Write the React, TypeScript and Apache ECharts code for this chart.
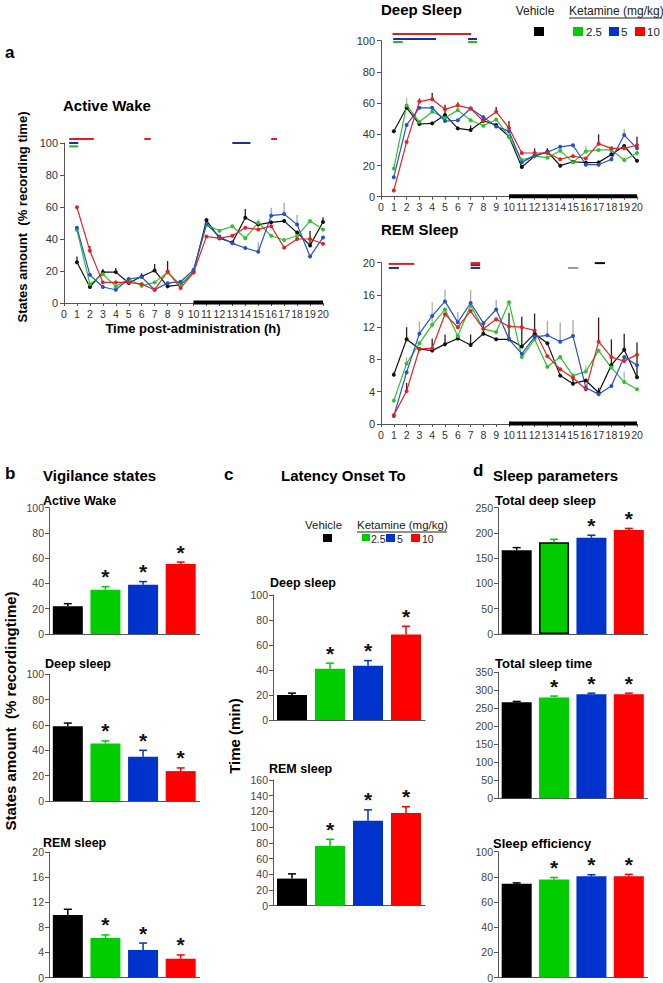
import React, { useEffect, useRef } from "react";
import * as echarts from "echarts";

// ---------- DATA ----------
const HOURS = [1, 2, 3, 4, 5, 6, 7, 8, 9, 10, 11, 12, 13, 14, 15, 16, 17, 18, 19, 20];
const GROUPS = ["Vehicle", "2.5", "5", "10"];
const DARK_PHASE = [10, 20];

// Active Wake (% recording time)
const awVehicle = [25.5, 10, 19.3, 19.3, 12.5, 16.6, 20.3, 10.4, 11.4, 19.5, 51.7, 40.5, 37.8, 53.3, 49, 50.4, 51.2, 44, 36, 50.6];
const awK25 = [45.6, 11.8, 18, 10.4, 15, 10.8, 12.9, 19, 11.4, 19.7, 48.8, 45.2, 48, 40.5, 50.2, 42, 39.4, 42, 51.2, 46];
const awK5 = [47, 17.6, 10, 8.3, 15, 16.2, 8.3, 12.4, 13.3, 20.7, 49.4, 41.5, 37.3, 34.4, 32, 54.6, 55.6, 49, 29, 41];
const awK10 = [59.8, 32.6, 12.9, 12.9, 12.9, 11.8, 8.3, 19.7, 9.3, 19, 41.5, 40.5, 42, 47, 46, 48, 34.6, 40, 40, 37];
const awVehicleErr = [3.5, 1, 2, 2.5, 1, 2, 4, 0, 1, 0, 1.5, 0.5, 0.5, 5.5, 1, 0, 1, 1, 9, 3];
const awK25Err = [0, 0, 0, 0, 0, 0, 0, 0, 0, 0, 0, 0, 0, 0, 2, 0, 0, 0, 0, 0];
const awK5Err = [0, 0, 0, 0, 0, 0, 0, 0, 0, 0, 0, 0, 0, 0, 6, 5, 7, 6, 0, 0];
const awK10Err = [0, 3, 0, 0, 0, 0, 0, 6.5, 0, 0, 0, 0, 0, 0, 0, 0, 0, 0, 0, 0];
// significance bars: [fromHour, toHour, level, group]
const awSig = [
  [0.4, 2.3, 102.5, 3],
  [0.4, 1.1, 100, 2],
  [0.4, 1.1, 97.9, 1],
  [6.2, 6.7, 102.5, 3],
  [13.0, 14.4, 100, 2],
  [16.0, 16.45, 102.5, 3],
];

// Deep Sleep
const dsVehicle = [42, 57, 46.6, 47, 52.4, 43.8, 42.7, 48.7, 46, 38.5, 19, 26, 28.8, 19.9, 22.4, 21.8, 22, 27, 32.5, 23];
const dsK25 = [18, 58.5, 48, 54.5, 50.5, 55.5, 49, 45.5, 49.5, 38.5, 23.5, 26, 25, 29.5, 22, 29, 30, 30, 23.5, 28];
const dsK5 = [12.5, 46, 57, 57, 48.5, 49, 56.5, 51, 45, 42, 22, 26.5, 28.5, 32, 33, 20.5, 20.5, 24, 39.5, 31];
const dsK10 = [4, 35, 61, 62.5, 56, 58.5, 56.5, 48.5, 54.5, 44, 28, 28, 28, 24, 26, 24.5, 34, 31, 31, 33];
const dsVehicleErr = [0, 0, 0, 0, 3, 0, 3, 0, 0, 0, 0, 0, 2, 0, 0, 0, 0, 3, 0, 0];
const dsK25Err = [0, 5, 0, 0, 0, 0, 0, 0, 0, 0, 0, 0, 0, 0, 0, 3.5, 0, 0, 0, 0];
const dsK5Err = [0, 0, 0, 0, 0, 0, 0, 0, 0, 0, 0, 0, 0, 0, 0, 0, 0, 0, 4, 0];
const dsK10Err = [0, 0, 2, 4, 3, 2, 0, 0, 3, 4.5, 0, 3, 3, 0, 0, 0, 6, 0, 0, 5.5];
const dsSig = [
  [0.9, 7.05, 104.3, 3],
  [0.95, 4.3, 101.1, 2],
  [0.95, 1.7, 99.2, 1],
  [6.8, 7.5, 101.1, 2],
  [6.8, 7.5, 99.2, 1],
];

// REM Sleep
const remVehicle = [6.1, 10.5, 9.3, 9.1, 9.9, 10.6, 9.8, 11.2, 10.5, 10.5, 9.6, 11.2, 10, 6, 5, 5.4, 3.9, 7.3, 9.2, 5.8];
const remK25 = [2.9, 7.5, 10, 12.3, 14.2, 10.9, 14.7, 11.8, 11.4, 15.1, 8.3, 10.5, 7.1, 8.3, 6, 6.5, 9.1, 7, 5.2, 4.3];
const remK5 = [1, 6.4, 11.2, 13.4, 15.2, 12.6, 15, 12.5, 14.2, 10.5, 8.7, 10.8, 11, 10.2, 10.9, 4.5, 3.7, 4.7, 8.3, 7.3];
const remK10 = [1.1, 4.1, 9.3, 9.4, 13.6, 12, 14, 11.8, 13, 12.1, 12, 11.6, 8.4, 6.8, 5.7, 4.3, 10.2, 8.3, 7.8, 8.6];
const remVehicleErr = [0.3, 1.5, 0, 1.5, 1.2, 0, 1.3, 1.4, 0, 3.3, 3.7, 2.5, 0, 0, 0.9, 0, 0.6, 3.2, 2, 4.3];
const remK25Err = [0, 0.8, 0, 2.8, 0, 0, 0, 0, 0, 0, 0, 0, 0, 0, 0, 0.8, 0, 0, 1.3, 0];
const remK5Err = [0, 0, 1.5, 0, 1.4, 1.3, 1.6, 0, 1.2, 0, 0, 0, 1.8, 2.4, 2, 0, 0, 0, 0, 0];
const remK10Err = [0, 1, 0, 0, 0, 0, 0, 0, 0, 0, 0, 0, 0, 0, 0, 0, 3, 0, 0, 0];
const remSig = [
  [0.6, 2.6, 19.85, 3],
  [0.6, 1.4, 19.35, 2],
  [7.0, 7.75, 19.95, 3],
  [7.0, 7.75, 19.7, 4],
  [7.0, 7.75, 19.35, 2],
  [14.6, 15.4, 19.35, 5],
  [16.7, 17.5, 19.95, 0],
];

// b: Vigilance states
const bAW = [22, 35, 39, 55.5];
const bAWErr = [2, 2.5, 2.5, 1.5];
const bAWSig = [0, 1, 1, 1];
const bDS = [59, 45.4, 35, 23.6];
const bDSErr = [2.5, 2, 5, 2.5];
const bDSSig = [0, 1, 1, 1];
const bREM = [10, 6.3, 4.4, 3];
const bREMErr = [0.9, 0.5, 1.1, 0.6];
const bREMSig = [0, 1, 1, 1];
// c: Latency onset to
const cDS = [20, 41, 43.5, 68.5];
const cDSErr = [1.5, 4.5, 4, 6.5];
const cDSSig = [0, 1, 1, 1];
const cREM = [34.5, 76, 108, 118];
const cREMErr = [6, 8.5, 14, 8];
const cREMSig = [0, 1, 1, 1];
// d: Sleep parameters
const dTDS = [166, 181.5, 190.5, 206];
const dTDSErr = [5, 6, 5, 3];
const dTDSSig = [0, 0, 1, 1];
const dTST = [267, 280, 289, 289];
const dTSTErr = [2, 4, 3, 3];
const dTSTSig = [0, 1, 1, 1];
const dSE = [74.5, 78, 80.5, 80.5];
const dSEErr = [0.7, 1.5, 1.2, 1.5];
const dSESig = [0, 1, 1, 1];

// ---------- STYLE ----------
const FONT = "'Liberation Sans', Arial, Helvetica, sans-serif";
const LINE_COLORS = ["#111111", "#2fc12f", "#2352cc", "#e52222"];
const ERR_COLORS = ["#222222", "#b5b5b5", "#a8a8a8", "#4a1010"];
const SIG_COLORS = ["#111111", "#22b822", "#1a2f9a", "#e01e1e", "#8a1a1a", "#9a9a9a"];
const BAR_COLORS = ["#000000", "#00cc00", "#0033cc", "#ff0000"];

const GRIDS = [
  { left: 64, top: 143, width: 259, height: 160 },
  { left: 381, top: 40.7, width: 256, height: 156 },
  { left: 381, top: 262.7, width: 256, height: 161.3 },
  { left: 49, top: 507.7, width: 150.5, height: 126.3 },
  { left: 49, top: 674.3, width: 150.5, height: 126.7 },
  { left: 49, top: 852.3, width: 150.5, height: 125.4 },
  { left: 273, top: 595, width: 152, height: 125 },
  { left: 273, top: 780, width: 152, height: 125.7 },
  { left: 498, top: 507.7, width: 149.5, height: 126.3 },
  { left: 498, top: 672.3, width: 149.5, height: 126 },
  { left: 498, top: 851.7, width: 149.5, height: 126 },
];

function buildOption() {
  const xAxis: any[] = [];
  const yAxis: any[] = [];
  const series: any[] = [];

  const linePanels = [
    { g: 0, lines: [awVehicle, awK25, awK5, awK10], errs: [awVehicleErr, awK25Err, awK5Err, awK10Err], sig: awSig, max: 100, interval: 20 },
    { g: 1, lines: [dsVehicle, dsK25, dsK5, dsK10], errs: [dsVehicleErr, dsK25Err, dsK5Err, dsK10Err], sig: dsSig, max: 100, interval: 20 },
    { g: 2, lines: [remVehicle, remK25, remK5, remK10], errs: [remVehicleErr, remK25Err, remK5Err, remK10Err], sig: remSig, max: 20, interval: 4 },
  ];

  linePanels.forEach((p) => {
    xAxis.push({
      type: "value", gridIndex: p.g, min: 0, max: 20, interval: 1,
      axisLine: { lineStyle: { color: "#555", width: 1 } },
      axisTick: { show: true, length: 3, lineStyle: { color: "#555" } },
      axisLabel: { fontSize: 10.5, color: "#333", margin: 5, fontFamily: FONT },
      splitLine: { show: false },
    });
    yAxis.push({
      type: "value", gridIndex: p.g, min: 0, max: p.max, interval: p.interval,
      axisLine: { show: true, lineStyle: { color: "#555", width: 1 } },
      axisTick: { show: true, length: 4, lineStyle: { color: "#555" } },
      axisLabel: { fontSize: 11, color: "#333", margin: 6, fontFamily: FONT },
      splitLine: { show: false },
    });
    const ai = xAxis.length - 1;
    // error bars
    p.errs.forEach((err, k) => {
      series.push({
        type: "custom", xAxisIndex: ai, yAxisIndex: ai, z: 1, clip: false,
        encode: { x: 0, y: 1 },
        data: HOURS.map((h, i) => [h, p.lines[k][i], err[i]]),
        renderItem: (params: any, api: any) => {
          const e = api.value(2);
          if (!e) return null;
          const a = api.coord([api.value(0), api.value(1)]);
          const b = api.coord([api.value(0), api.value(1) + e]);
          return { type: "line", shape: { x1: a[0], y1: a[1], x2: b[0], y2: b[1] }, style: { stroke: ERR_COLORS[k], lineWidth: 1.3 } };
        },
      });
    });
    p.lines.forEach((arr, k) => {
      series.push({
        type: "line", xAxisIndex: ai, yAxisIndex: ai, z: 3,
        data: HOURS.map((h, i) => [h, arr[i]]),
        symbol: "circle", symbolSize: 4, showSymbol: true,
        lineStyle: { color: LINE_COLORS[k], width: 1.2 },
        itemStyle: { color: LINE_COLORS[k] },
        emphasis: { disabled: true },
      });
    });
    // significance bars
    series.push({
      type: "custom", xAxisIndex: ai, yAxisIndex: ai, z: 4, clip: false,
      encode: { x: [0, 1], y: 2 },
      data: p.sig,
      renderItem: (params: any, api: any) => {
        const a = api.coord([api.value(0), api.value(2)]);
        const b = api.coord([api.value(1), api.value(2)]);
        return { type: "line", shape: { x1: a[0], y1: a[1], x2: b[0], y2: b[1] }, style: { stroke: SIG_COLORS[api.value(3)], lineWidth: 2 } };
      },
    });
    // dark phase bar
    series.push({
      type: "custom", xAxisIndex: ai, yAxisIndex: ai, z: 5, clip: false,
      encode: { x: [0, 1] },
      data: [[DARK_PHASE[0], DARK_PHASE[1]]],
      renderItem: (params: any, api: any) => {
        const a = api.coord([api.value(0), 0]);
        const b = api.coord([api.value(1), 0]);
        return { type: "line", shape: { x1: a[0], y1: a[1] - 0.5, x2: b[0], y2: b[1] - 0.5 }, style: { stroke: "#000", lineWidth: 4 } };
      },
    });
  });

  const barPanels = [
    { g: 3, v: bAW, e: bAWErr, s: bAWSig, max: 100, interval: 20 },
    { g: 4, v: bDS, e: bDSErr, s: bDSSig, max: 100, interval: 20 },
    { g: 5, v: bREM, e: bREMErr, s: bREMSig, max: 20, interval: 4 },
    { g: 6, v: cDS, e: cDSErr, s: cDSSig, max: 100, interval: 20 },
    { g: 7, v: cREM, e: cREMErr, s: cREMSig, max: 160, interval: 20 },
    { g: 8, v: dTDS, e: dTDSErr, s: dTDSSig, max: 250, interval: 50, outlineGreen: true },
    { g: 9, v: dTST, e: dTSTErr, s: dTSTSig, max: 350, interval: 50 },
    { g: 10, v: dSE, e: dSEErr, s: dSESig, max: 100, interval: 20 },
  ];

  barPanels.forEach((p: any) => {
    xAxis.push({
      type: "category", gridIndex: p.g, data: GROUPS,
      axisLine: { lineStyle: { color: "#555", width: 1 } },
      axisTick: { show: false }, axisLabel: { show: false }, splitLine: { show: false },
    });
    yAxis.push({
      type: "value", gridIndex: p.g, min: 0, max: p.max, interval: p.interval,
      axisLine: { show: true, lineStyle: { color: "#555", width: 1 } },
      axisTick: { show: true, length: 4, lineStyle: { color: "#555" } },
      axisLabel: { fontSize: 10.5, color: "#444", margin: 5, fontFamily: FONT },
      splitLine: { show: false },
    });
    const ai = xAxis.length - 1;
    series.push({
      type: "bar", xAxisIndex: ai, yAxisIndex: ai, barWidth: 30, z: 2,
      data: p.v.map((val: number, i: number) => ({
        value: val,
        itemStyle: {
          color: BAR_COLORS[i],
          borderColor: p.outlineGreen && i === 1 ? "#000" : BAR_COLORS[i],
          borderWidth: p.outlineGreen && i === 1 ? 1.5 : 0,
        },
      })),
      emphasis: { disabled: true },
    });
    series.push({
      type: "custom", xAxisIndex: ai, yAxisIndex: ai, z: 3, clip: false,
      encode: { x: 0, y: 1 },
      data: p.v.map((val: number, i: number) => [i, val, p.e[i], p.s[i]]),
      renderItem: (params: any, api: any) => {
        const i = api.value(0);
        const v = api.value(1);
        const e = api.value(2);
        const a = api.coord([i, v]);
        const b = api.coord([i, v + e]);
        const col = BAR_COLORS[i];
        const children: any[] = [
          { type: "line", shape: { x1: a[0], y1: a[1], x2: b[0], y2: b[1] }, style: { stroke: col, lineWidth: 1.5 } },
          { type: "line", shape: { x1: b[0] - 4, y1: b[1], x2: b[0] + 4, y2: b[1] }, style: { stroke: col, lineWidth: 1.5 } },
        ];
        if (api.value(3)) {
          children.push({
            type: "text",
            style: {
              text: "*", x: b[0], y: b[1] - 10, font: `bold 21px ${FONT}`, fill: "#111",
              align: "center", verticalAlign: "middle", textAlign: "center", textVerticalAlign: "middle",
            },
          });
        }
        return { type: "group", children };
      },
    });
  });

  // ---------- TEXT / LEGENDS ----------
  const txt = (x: number, y: number, text: string, size: number, bold = true, align = "left", rot = 0, fill = "#000") => ({
    type: "text", x, y, rotation: rot, silent: true,
    style: {
      text, font: `${bold ? "bold " : ""}${size}px ${FONT}`, fill,
      textAlign: align, textVerticalAlign: "middle", align, verticalAlign: "middle",
    },
  });
  const sq = (x: number, y: number, color: string, s = 10) => ({
    type: "rect", shape: { x, y, width: s, height: s - 1 }, style: { fill: color }, silent: true,
  });
  const ul = (x1: number, x2: number, y: number) => ({
    type: "line", shape: { x1, y1: y, x2, y2: y }, style: { stroke: "#222", lineWidth: 1 }, silent: true,
  });

  const graphic: any[] = [
    txt(5, 52, "a", 17),
    txt(63, 105, "Active Wake", 15),
    txt(381, 9, "Deep Sleep", 15),
    txt(381, 229, "REM Sleep", 15),
    txt(22, 217, "States amount  (% recording time)", 13, true, "center", Math.PI / 2),
    txt(193, 328, "Time post-administration (h)", 13, true, "center"),
    // legend (top right)
    txt(535, 11, "Vehicle", 12, false, "center", 0, "#222"),
    txt(569, 11, "Ketamine (mg/kg)", 12, false, "left", 0, "#222"),
    ul(569, 662, 18),
    sq(534, 27, BAR_COLORS[0]),
    sq(573, 27, BAR_COLORS[1]),
    txt(586, 32, "2.5", 11.5, false, "left", 0, "#222"),
    sq(609, 27, BAR_COLORS[2]),
    txt(621, 32, "5", 11.5, false, "left", 0, "#222"),
    sq(635, 27, BAR_COLORS[3]),
    txt(647, 32, "10", 11.5, false, "left", 0, "#222"),
    // b
    txt(5, 473, "b", 17),
    txt(43, 475, "Vigilance states", 15),
    txt(43, 501, "Active Wake", 12.5),
    txt(45, 664, "Deep sleep", 12.5),
    txt(43, 843, "REM sleep", 12.5),
    txt(10, 711, "States amount  (% recordingtime)", 15, true, "center", Math.PI / 2),
    // c
    txt(224, 474, "c", 17),
    txt(281, 475, "Latency Onset To", 15),
    txt(323.5, 525, "Vehicle", 11.5, false, "center", 0, "#222"),
    txt(357, 525, "Ketamine (mg/kg)", 11.5, false, "left", 0, "#222"),
    ul(357, 447, 532),
    sq(323, 534, BAR_COLORS[0], 9),
    sq(362, 534, BAR_COLORS[1], 8),
    txt(371, 538.5, "2.5", 10.5, false, "left", 0, "#222"),
    sq(386, 534, BAR_COLORS[2], 9),
    txt(397, 538.5, "5", 10.5, false, "left", 0, "#222"),
    sq(411, 534, BAR_COLORS[3], 9),
    txt(422, 538.5, "10", 10.5, false, "left", 0, "#222"),
    txt(270, 583, "Deep sleep", 12.5),
    txt(269, 769, "REM sleep", 12.5),
    txt(234, 736, "Time (min)", 15, true, "center", Math.PI / 2),
    // d
    txt(473, 470, "d", 17),
    txt(493, 475, "Sleep parameters", 15),
    txt(495, 500, "Total deep sleep", 13),
    txt(495, 663, "Total sleep time", 13),
    txt(493, 843, "Sleep efficiency", 13),
  ];

  return {
    animation: false,
    backgroundColor: "#ffffff",
    textStyle: { fontFamily: FONT },
    grid: GRIDS.map((g) => ({ ...g, containLabel: false })),
    xAxis,
    yAxis,
    series,
    graphic,
  };
}

export default function App() {
  const ref = useRef<HTMLDivElement>(null);
  useEffect(() => {
    document.body.style.margin = "0";
    if (!ref.current) return;
    const chart = echarts.init(ref.current, undefined, { renderer: "svg" });
    chart.setOption(buildOption() as any);
    return () => chart.dispose();
  }, []);
  return <div ref={ref} style={{ width: 663, height: 983, background: "#fff" }} />;
}
